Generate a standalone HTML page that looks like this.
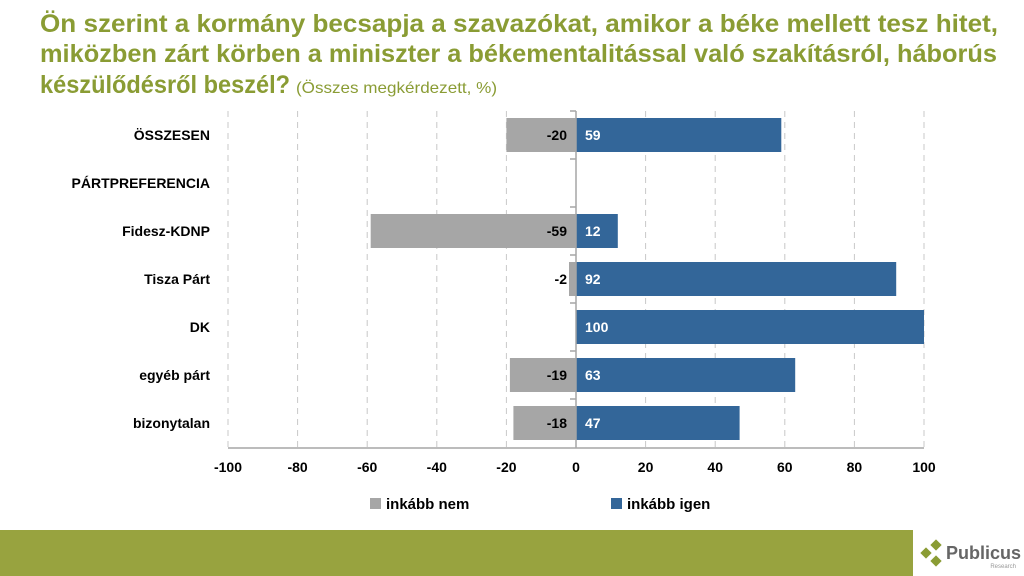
<!DOCTYPE html>
<html><head><meta charset="utf-8"><style>body{margin:0;background:#fff}svg{display:block}</style></head><body>
<svg width="1024" height="576" xmlns="http://www.w3.org/2000/svg" font-family="'Liberation Sans', sans-serif">
<g fill="#8a9c34" font-weight="bold" font-size="25">
<text x="40" y="32" textLength="958" lengthAdjust="spacingAndGlyphs">Ön szerint a kormány becsapja a szavazókat, amikor a béke mellett tesz hitet,</text>
<text x="40" y="62" textLength="957" lengthAdjust="spacingAndGlyphs">miközben zárt körben a miniszter a békementalitással való szakításról, háborús</text>
<text x="40" y="93" textLength="250" lengthAdjust="spacingAndGlyphs">készülődésről beszél?</text>
<text x="296" y="93" font-weight="normal" font-size="16" textLength="201" lengthAdjust="spacingAndGlyphs">(Összes megkérdezett, %)</text>
</g>
<g stroke="#c8c8c8" stroke-dasharray="6,5" stroke-width="1">
<line x1="228" y1="111" x2="228" y2="448"/><line x1="297.6" y1="111" x2="297.6" y2="448"/><line x1="367.2" y1="111" x2="367.2" y2="448"/><line x1="436.8" y1="111" x2="436.8" y2="448"/><line x1="506.4" y1="111" x2="506.4" y2="448"/><line x1="645.6" y1="111" x2="645.6" y2="448"/><line x1="715.2" y1="111" x2="715.2" y2="448"/><line x1="784.8" y1="111" x2="784.8" y2="448"/><line x1="854.4" y1="111" x2="854.4" y2="448"/><line x1="924" y1="111" x2="924" y2="448"/>
</g>
<g fill="#a6a6a6">
<rect x="506.4" y="118" width="69.6" height="34"/>
<rect x="370.7" y="214" width="205.3" height="34"/>
<rect x="569" y="262" width="7" height="34"/>
<rect x="509.9" y="358" width="66.1" height="34"/>
<rect x="513.4" y="406" width="62.6" height="34"/>
</g>
<g fill="#336699">
<rect x="576" y="118" width="205.3" height="34"/>
<rect x="576" y="214" width="41.8" height="34"/>
<rect x="576" y="262" width="320.2" height="34"/>
<rect x="576" y="310" width="348" height="34"/>
<rect x="576" y="358" width="219.2" height="34"/>
<rect x="576" y="406" width="163.6" height="34"/>
</g>
<g stroke="#a6a6a6" stroke-width="1.5">
<line x1="576" y1="111" x2="576" y2="448"/>
<line x1="228" y1="448" x2="924" y2="448"/>
<line x1="570" y1="111" x2="576" y2="111"/><line x1="570" y1="159" x2="576" y2="159"/><line x1="570" y1="207" x2="576" y2="207"/><line x1="570" y1="255" x2="576" y2="255"/><line x1="570" y1="303" x2="576" y2="303"/><line x1="570" y1="351" x2="576" y2="351"/><line x1="570" y1="399" x2="576" y2="399"/>
</g>
<g font-size="14" font-weight="bold" text-anchor="end" fill="#000">
<text x="567" y="140">-20</text><text x="567" y="236">-59</text><text x="567" y="284">-2</text><text x="567" y="380">-19</text><text x="567" y="428">-18</text>
</g>
<g font-size="14" font-weight="bold" fill="#fff">
<text x="585" y="140">59</text><text x="585" y="236">12</text><text x="585" y="284">92</text><text x="585" y="332">100</text><text x="585" y="380">63</text><text x="585" y="428">47</text>
</g>
<g font-size="14" font-weight="bold" text-anchor="end" fill="#000">
<text x="210" y="140">ÖSSZESEN</text><text x="210" y="188">PÁRTPREFERENCIA</text><text x="210" y="236">Fidesz-KDNP</text><text x="210" y="284">Tisza Párt</text><text x="210" y="332">DK</text><text x="210" y="380">egyéb párt</text><text x="210" y="428">bizonytalan</text>
</g>
<g font-size="14" font-weight="bold" text-anchor="middle" fill="#000">
<text x="228" y="472">-100</text><text x="297.6" y="472">-80</text><text x="367.2" y="472">-60</text><text x="436.8" y="472">-40</text><text x="506.4" y="472">-20</text><text x="576" y="472">0</text><text x="645.6" y="472">20</text><text x="715.2" y="472">40</text><text x="784.8" y="472">60</text><text x="854.4" y="472">80</text><text x="924" y="472">100</text>
</g>
<rect x="370" y="498" width="11" height="11" fill="#a6a6a6"/>
<text x="386" y="509" font-size="15" font-weight="bold">inkább nem</text>
<rect x="611" y="498" width="11" height="11" fill="#336699"/>
<text x="627" y="509" font-size="15" font-weight="bold">inkább igen</text>
<rect x="0" y="530" width="913" height="46" fill="#98a33f"/>
<g fill="#8a9c34">
<rect x="932" y="541" width="8" height="8" transform="rotate(45 936 545)"/>
<rect x="922" y="549" width="8" height="8" transform="rotate(45 926 553)"/>
<rect x="932" y="557" width="8" height="8" transform="rotate(45 936 561)"/>
</g>
<text x="946" y="559" font-size="18" font-weight="bold" fill="#666">Publicus</text>
<text x="1016" y="568" font-size="6" fill="#999" text-anchor="end">Research</text>
</svg>
</body></html>
